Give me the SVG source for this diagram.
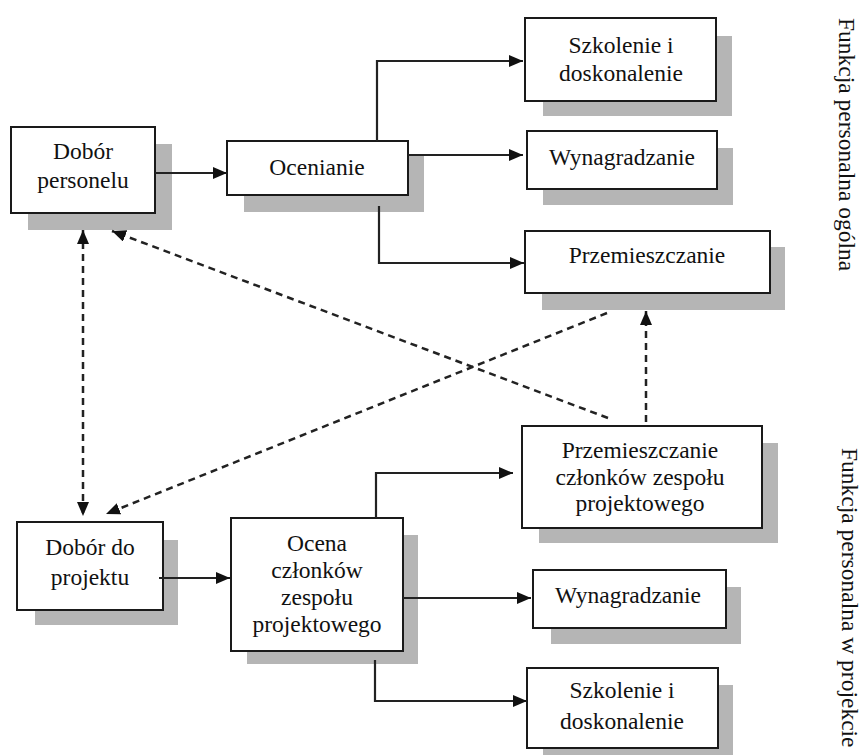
<svg xmlns="http://www.w3.org/2000/svg" width="868" height="755" viewBox="0 0 868 755">
<style>
.box{fill:#fff;stroke:#1a1a1a;stroke-width:2}
.sh{fill:#b5b5b5}
.t{font-family:"Liberation Serif","Times New Roman",serif;font-size:23.5px;fill:#111;text-anchor:middle}
.v{font-family:"Liberation Serif","Times New Roman",serif;font-size:23.5px;fill:#111}
.c{fill:none;stroke:#222;stroke-width:2.2}
.d{fill:none;stroke:#222;stroke-width:2.5;stroke-dasharray:7 5}
</style>
<defs>
<marker id="ah" viewBox="0 0 14 12" refX="14" refY="6" markerWidth="14" markerHeight="12" orient="auto-start-reverse" markerUnits="userSpaceOnUse">
<path d="M0,0 L14,6 L0,12 z" fill="#111"/>
</marker>
</defs>
<rect width="868" height="755" fill="#fff"/>

<g id="dobor-personelu">
<rect class="sh" x="28" y="144" width="144" height="86"/>
<rect class="box" x="11" y="127" width="144" height="86"/>
<text class="t" x="83" y="159">Dobór</text>
<text class="t" x="83" y="188">personelu</text>
</g>
<g id="ocenianie">
<rect class="sh" x="244" y="156" width="180" height="56"/>
<rect class="box" x="227" y="141" width="181" height="54"/>
<text class="t" x="317" y="175">Ocenianie</text>
</g>
<g id="szkolenie-1">
<rect class="sh" x="543" y="36" width="189" height="80"/>
<rect class="box" x="525" y="18" width="191" height="83"/>
<text class="t" x="621" y="53">Szkolenie i</text>
<text class="t" x="621" y="81">doskonalenie</text>
</g>
<g id="wynagradzanie-1">
<rect class="sh" x="543" y="148" width="190" height="57"/>
<rect class="box" x="527" y="131" width="190" height="58"/>
<text class="t" x="622" y="165">Wynagradzanie</text>
</g>
<g id="przemieszczanie-1">
<rect class="sh" x="542" y="247" width="243" height="63"/>
<rect class="box" x="525" y="231" width="245" height="62"/>
<text class="t" x="647" y="263">Przemieszczanie</text>
</g>
<g id="przemieszczanie-2">
<rect class="sh" x="539" y="443" width="239" height="100"/>
<rect class="box" x="522" y="426" width="240" height="102"/>
<text class="t" x="640" y="458">Przemieszczanie</text>
<text class="t" x="640" y="485">członków zespołu</text>
<text class="t" x="640" y="511">projektowego</text>
</g>
<g id="dobor-do-projektu">
<rect class="sh" x="35" y="540" width="143" height="85"/>
<rect class="box" x="17" y="522" width="146" height="88"/>
<text class="t" x="90" y="555">Dobór do</text>
<text class="t" x="90" y="585">projektu</text>
</g>
<g id="ocena">
<rect class="sh" x="247" y="535" width="171" height="129"/>
<rect class="box" x="231" y="518" width="172" height="133"/>
<text class="t" x="317" y="551">Ocena</text>
<text class="t" x="317" y="578">członków</text>
<text class="t" x="317" y="605">zespołu</text>
<text class="t" x="317" y="632">projektowego</text>
</g>
<g id="wynagradzanie-2">
<rect class="sh" x="551" y="587" width="190" height="57"/>
<rect class="box" x="533" y="570" width="193" height="58"/>
<text class="t" x="628" y="603">Wynagradzanie</text>
</g>
<g id="szkolenie-2">
<rect class="sh" x="543" y="685" width="190" height="70"/>
<rect class="box" x="527" y="668" width="191" height="80"/>
<text class="t" x="622" y="698">Szkolenie i</text>
<text class="t" x="622" y="729">doskonalenie</text>
</g>

<g id="connectors">
<path class="c" d="M155,173 H227" marker-end="url(#ah)"/>
<path class="c" d="M377,141 V61 H523" marker-end="url(#ah)"/>
<path class="c" d="M408,155 H523" marker-end="url(#ah)"/>
<path class="c" d="M379,206 V263 H524" marker-end="url(#ah)"/>
<path class="c" d="M159,578 H230" marker-end="url(#ah)"/>
<path class="c" d="M376,518 V473 H513" marker-end="url(#ah)"/>
<path class="c" d="M403,598 H531" marker-end="url(#ah)"/>
<path class="c" d="M375,660 V701 H527" marker-end="url(#ah)"/>
<path class="d" d="M83,230 V516" marker-start="url(#ah)" marker-end="url(#ah)"/>
<path class="d" d="M608,418 L112,231" marker-end="url(#ah)"/>
<path class="d" d="M607,313 L106,514" marker-end="url(#ah)"/>
<path class="d" d="M646,422 V311" marker-end="url(#ah)"/>
</g>

<g id="labels">
<text class="v" transform="translate(839,18) rotate(90)">Funkcja personalna ogólna</text>
<text class="v" transform="translate(842,448) rotate(90)">Funkcja personalna w projekcie</text>
</g>
</svg>
